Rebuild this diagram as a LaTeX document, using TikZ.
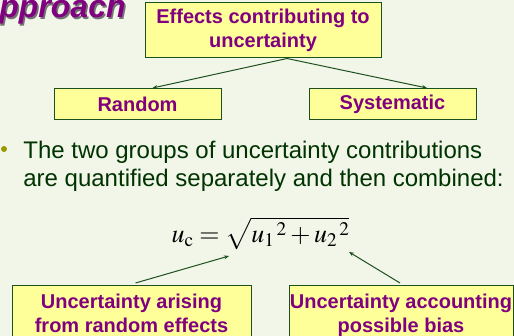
\documentclass[tikz,border=0pt]{standalone}
\usepackage{mathptmx}
\usepackage[no-math]{fontspec}
\setmainfont{Liberation Sans}
\usetikzlibrary{arrows.meta,calc}

\definecolor{slidebg}{RGB}{241,246,233}
\definecolor{boxfill}{RGB}{255,255,153}
\definecolor{boxline}{RGB}{30,80,30}
\definecolor{boxtext}{RGB}{128,0,128}
\definecolor{bodytext}{RGB}{0,51,0}
\definecolor{bulletcol}{RGB}{153,153,0}

\tikzset{
    every picture/.style={line width=0.75pt},
    effbox/.style={draw=boxline, fill=boxfill, text=boxtext, align=center,
        font=\bfseries\fontsize{20}{24}\selectfont, inner sep=0pt, line width=1pt},
    link/.style={draw=boxline, line width=1pt, -{Stealth[length=5pt,width=4pt]}}
}

\begin{document}
\begin{tikzpicture}[x=1pt, y=-1pt]

    % --- Hintergrund ---
    \useasboundingbox (0,0) rectangle (514,336);
    \fill[slidebg] (0,0) rectangle (514,336);

    % Titel (abgeschnitten)
    \node[anchor=base east, inner sep=0, text=black!55,
          font=\bfseries\itshape\fontsize{32}{36}\selectfont] (titleshadow) at (127.5,19.5) {Approach};
    \node[anchor=base east, inner sep=0, text=boxtext,
          font=\bfseries\itshape\fontsize{32}{36}\selectfont] (title) at (126,18) {Approach};

    % --- Aufteilung der Effekte ---
    \node[effbox, minimum width=236pt, minimum height=55pt] (effects) at (263,30.5)
        {Effects contributing to\\uncertainty};
    \node[effbox, minimum width=167pt, minimum height=31pt] (random) at (137.5,104) {Random};
    \node[effbox, minimum width=167pt, minimum height=31pt] (systematic) at (392.5,104) {Systematic};

    \draw[link] ([xshift=24pt]effects.south) -- ([xshift=15pt]random.north);
    \draw[link] ([xshift=24pt]effects.south) -- ([xshift=34.5pt]systematic.north);

    % --- Aufzaehlung ---
    \fill[bulletcol] (4,149) circle (3);
    \node[anchor=north west, inner sep=0, align=left, text=bodytext,
          font=\fontsize{24}{28}\selectfont] (groups) at (23,141)
        {The two groups of uncertainty contributions\\are quantified separately and then combined:};

    % Formel
    \node[anchor=base, inner sep=0, font=\fontsize{26}{30}\selectfont] (combined) at (260.5,243)
        {$u_{\mathrm{c}} = \sqrt{u_1{}^{\,2} + u_2{}^{\,2}}$};

    % --- Beitraege ---
    \node[effbox, anchor=north, minimum width=239pt, inner ysep=8.5pt] (randunc) at (131.5,285)
        {Uncertainty arising\\from random effects};
    \node[effbox, anchor=north, minimum width=224pt, inner ysep=8.5pt] (biasunc) at (401,285)
        {Uncertainty accounting\\possible bias};

    \draw[link] ([xshift=4pt,yshift=2pt]randunc.north) -- (229,256);
    \draw[link] ([xshift=-1pt,yshift=2pt]biasunc.north) -- (349,252);

\end{tikzpicture}
\end{document}
